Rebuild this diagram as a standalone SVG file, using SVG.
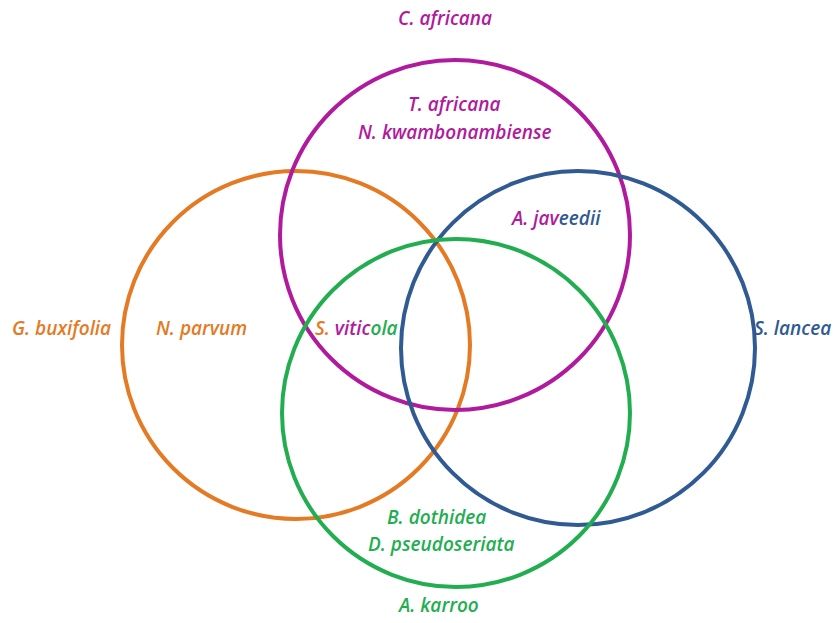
<svg xmlns="http://www.w3.org/2000/svg" width="837" height="623" viewBox="0 0 837 623">
<style>
.c{fill:none;stroke-width:4}
text{font-family:"Open Sans","Liberation Sans",sans-serif;font-style:italic;font-weight:600;font-size:19px}
.o{fill:#E47A24}.m{fill:#B01A9C}.b{fill:#2F5A92}.g{fill:#22AE50}
</style>
<rect width="837" height="623" fill="#fff"/>
<g id="circles">
<circle id="orange" class="c" cx="296" cy="345" r="174" stroke="#E47A24"/>
<circle id="magenta" class="c" cx="455" cy="235" r="175" stroke="#B01A9C"/>
<circle id="blue" class="c" cx="578" cy="348" r="177" stroke="#2F5A92"/>
<circle id="green" class="c" cx="456" cy="413" r="174" stroke="#22AE50"/>
</g>
<g id="labels">
<text class="m" x="398" y="25">C. africana</text>
<text class="m" x="408" y="111">T. africana</text>
<text class="m" x="358" y="139">N. kwambonambiense</text>
<text x="512" y="225"><tspan class="m">A. jav</tspan><tspan class="b">eedii</tspan></text>
<text class="o" x="12" y="335">G. buxifolia</text>
<text class="o" x="156" y="335">N. parvum</text>
<text x="315" y="335"><tspan class="o">S. </tspan><tspan class="m">vitic</tspan><tspan class="g">ola</tspan></text>
<text class="b" x="754" y="335">S. lancea</text>
<text class="g" x="387" y="524">B. dothidea</text>
<text class="g" x="368" y="551">D. pseudoseriata</text>
<text class="g" x="399" y="612">A. karroo</text>
</g>
</svg>
